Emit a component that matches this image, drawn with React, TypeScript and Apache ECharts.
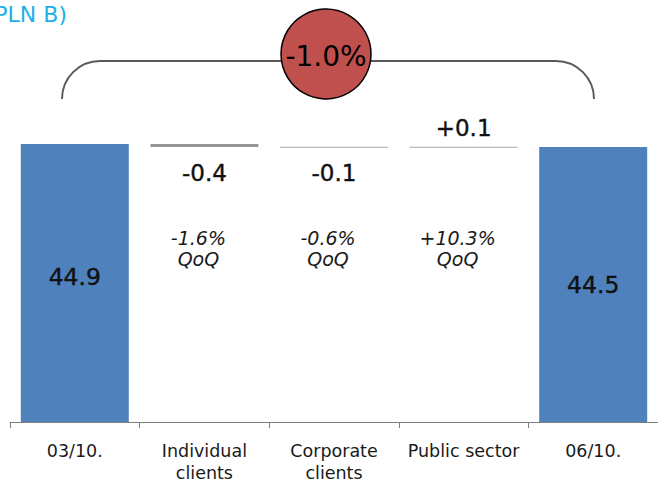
import React, { useEffect, useRef } from "react";
import * as echarts from "echarts";

// Deposits bridge, PLN B
const categories = ["03/10.", "Individual\nclients", "Corporate\nclients", "Public sector", "06/10."];
const totals: (number | string)[] = [44.9, "-", "-", "-", 44.5];
const changes: (number | string)[] = ["-", -0.4, -0.1, 0.1, "-"];
const changeLabels = ["", "-0.4", "-0.1", "+0.1", ""];
const qoqLabels = ["", "-1.6%", "-0.6%", "+10.3%", ""];
const totalChange = "-1.0%";
const titleText = "Deposits (PLN B)";

const FONT = "DejaVu Sans";
const BLUE = "#4f81bd";

// running level before each change, used as the invisible base of the floating bars
function buildBridge() {
  const base: (number | string)[] = [];
  const delta: (number | string)[] = [];
  let level = totals[0] as number;
  changes.forEach((c) => {
    if (c === "-") {
      base.push("-");
      delta.push("-");
      return;
    }
    const v = c as number;
    const next = Math.round((level + v) * 10) / 10;
    base.push(Math.min(level, next));
    delta.push(Math.abs(v));
    level = next;
  });
  return { base, delta };
}

export default function App() {
  const ref = useRef<HTMLDivElement>(null);

  useEffect(() => {
    document.body.style.margin = "0";
    if (!ref.current) return;
    const chart = echarts.init(ref.current, undefined, { renderer: "svg" });
    const { base, delta } = buildBridge();

    const deltaColors = ["#969696", "#a6a6a6", "#a6a6a6"];

    const option: echarts.EChartsOption = {
      animation: false,
      textStyle: { fontFamily: FONT },
      grid: { left: 10, right: 0, top: 105.6, bottom: 62 },
      xAxis: {
        type: "category",
        data: categories,
        axisLine: { lineStyle: { color: "#7f7f7f", width: 1 } },
        axisTick: { show: true, length: 6, lineStyle: { color: "#7f7f7f" } },
        axisLabel: {
          interval: 0,
          color: "#1a1a1a",
          fontSize: 17.5,
          lineHeight: 22,
          margin: 18,
          fontFamily: FONT,
        },
      },
      yAxis: {
        type: "value",
        min: 8,
        max: 50,
        show: false,
        splitLine: { show: false },
      },
      series: [
        {
          name: "base",
          type: "bar",
          stack: "bridge",
          barWidth: 108,
          barGap: "-100%",
          itemStyle: { color: "transparent" },
          data: base.map((v, i) => ({
            value: v,
            label: {
              show: qoqLabels[i] !== "",
              position: "insideTop",
              distance: 80,
              offset: [-6, 0],
              formatter: `${qoqLabels[i]}\nQoQ`,
              fontStyle: "italic",
              fontSize: 19,
              lineHeight: 21,
              color: "#1a1a1a",
              fontFamily: FONT,
            },
          })),
          silent: true,
        },
        {
          name: "change",
          type: "bar",
          stack: "bridge",
          barWidth: 108,
          barMinHeight: 1,
          data: delta.map((v, i) => {
            const up = typeof changes[i] === "number" && (changes[i] as number) > 0;
            return {
              value: v,
              itemStyle: { color: deltaColors[(i - 1 + 3) % 3] },
              label: {
                show: changeLabels[i] !== "",
                position: up ? "top" : "bottom",
                distance: up ? 7 : 14,
                formatter: changeLabels[i],
                fontSize: 23,
                color: "#111",
                textBorderColor: "#111",
                textBorderWidth: 0.4,
                fontFamily: FONT,
              },
            };
          }),
        },
        {
          name: "total",
          type: "bar",
          barWidth: 108,
          barGap: "-100%",
          itemStyle: { color: BLUE },
          data: totals.map((v, i) => ({
            value: v,
            label: {
              show: v !== "-",
              position: "inside",
              offset: [0, i === 0 ? -6 : 0],
              formatter: (p: any) => (p.value as number).toFixed(1),
              fontSize: 23.5,
              color: "#111",
              textBorderColor: "#111",
              textBorderWidth: 0.4,
              fontFamily: FONT,
            },
          })),
        },
      ],
      graphic: [
        {
          type: "text",
          x: 67,
          y: 14,
          style: {
            text: titleText,
            align: "right",
            verticalAlign: "middle",
            fontSize: 22,
            fontFamily: FONT,
            fill: "#1cb0e6",
          },
        },
        // bracket spanning the whole bridge
        {
          type: "arc",
          shape: { cx: 100, cy: 99, r: 38, startAngle: Math.PI, endAngle: Math.PI * 1.5 },
          style: { stroke: "#595959", lineWidth: 2, fill: "none" },
        },
        {
          type: "line",
          shape: { x1: 100, y1: 61, x2: 556, y2: 61 },
          style: { stroke: "#595959", lineWidth: 2 },
        },
        {
          type: "arc",
          shape: { cx: 556, cy: 99, r: 38, startAngle: Math.PI * 1.5, endAngle: Math.PI * 2 },
          style: { stroke: "#595959", lineWidth: 2, fill: "none" },
        },
        {
          type: "circle",
          shape: { cx: 326, cy: 54, r: 45 },
          style: { fill: "#c0504d", stroke: "#000", lineWidth: 1.5 },
        },
        {
          type: "text",
          x: 326,
          y: 56,
          style: {
            text: totalChange,
            align: "center",
            verticalAlign: "middle",
            fontSize: 28,
            fontFamily: FONT,
            fill: "#000",
          },
        },
      ],
    };

    chart.setOption(option);
    return () => chart.dispose();
  }, []);

  return <div ref={ref} style={{ width: 658, height: 484 }} />;
}
